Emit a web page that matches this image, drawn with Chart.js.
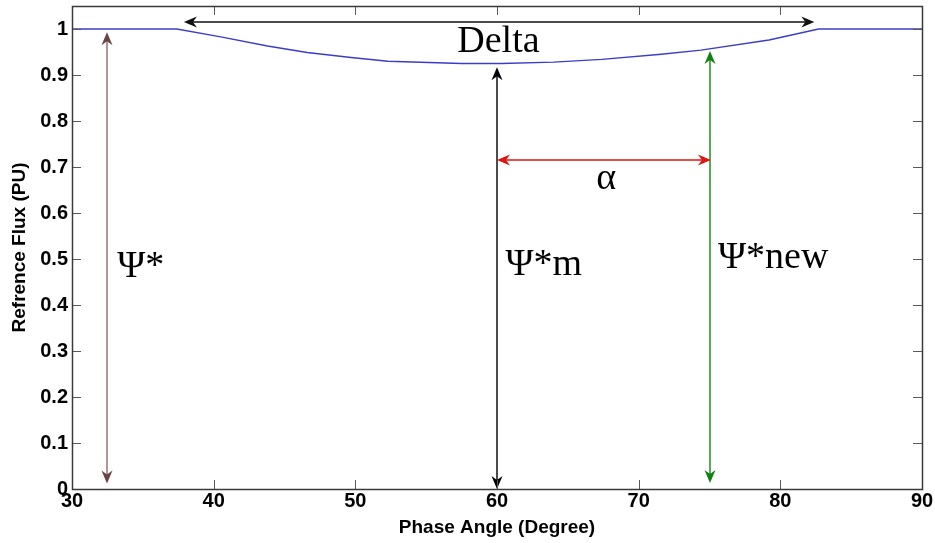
<!DOCTYPE html>
<html>
<head>
<meta charset="utf-8">
<script src="https://cdn.jsdelivr.net/npm/chart.js@4.4.0/dist/chart.umd.min.js"></script>
<style>
html, body { margin: 0; padding: 0; background: #fff; }
</style>
</head>
<body>
<canvas id="myChart" width="935" height="543"></canvas>
<script>
// curve
const phaseAngle = [30, 37.4, 40.5, 43.8, 46.6, 49.7, 52.3, 57.5, 60.3, 64, 67.4, 71.6, 74.4, 79.2, 82.7, 90];
const refFlux = [1, 1, 0.983, 0.963, 0.949, 0.938, 0.930, 0.925, 0.925, 0.928, 0.934, 0.945, 0.954, 0.976, 1, 1];

const xTicks = [30, 40, 50, 60, 70, 80, 90];
const yTicks = [0, 0.1, 0.2, 0.3, 0.4, 0.5, 0.6, 0.7, 0.8, 0.9, 1];

// vertical arrows: Psi*, Psi*m, Psi*new
const vArrowX = [32.5, 60, 75];
const vArrowTop = [0.993, 0.917, 0.952];
const vArrowBottom = [0.012, 0, 0.013];

// horizontal arrows: Delta, alpha
const hArrowY = [1.015, 0.715];
const hArrowFrom = [37.9, 60];
const hArrowTo = [82.4, 75.1];

// text labels
const labelText = ['Delta', 'α', 'Ψ*', 'Ψ*m', 'Ψ*new'];
const labelX = [60.1, 67.7, 33.2, 60.6, 75.6];
const labelY = [0.95, 0.652, 0.46, 0.465, 0.48];

const vArrowColors = [['#937575', '#6b4343'], ['#111', '#000'], ['#1f8f1f', '#138013']];
const hArrowColors = ['#111', '#e01212'];
const labelAlign = ['center', 'center', 'left', 'left', 'left'];

function drawHead(ctx, x, y, dx, dy, color) {
    const len = 13, half = 5.5, notch = 4;
    const px = -dy, py = dx;
    ctx.beginPath();
    ctx.moveTo(x, y);
    ctx.lineTo(x - dx * len + px * half, y - dy * len + py * half);
    ctx.lineTo(x - dx * (len - notch), y - dy * (len - notch));
    ctx.lineTo(x - dx * len - px * half, y - dy * len - py * half);
    ctx.closePath();
    ctx.fillStyle = color;
    ctx.fill();
}

const matlabBox = {
    id: 'matlabBox',
    afterDraw(chart) {
        const ctx = chart.ctx;
        const a = chart.chartArea;
        const xs = chart.scales.x, ys = chart.scales.y;
        ctx.save();
        ctx.strokeStyle = '#5a5a5a';
        ctx.lineWidth = 1;
        ctx.beginPath();
        xTicks.forEach(v => {
            const px = Math.round(xs.getPixelForValue(v)) + 0.5;
            ctx.moveTo(px, a.bottom); ctx.lineTo(px, a.bottom - 9);
            ctx.moveTo(px, a.top); ctx.lineTo(px, a.top + 9);
        });
        yTicks.forEach(v => {
            const py = Math.round(ys.getPixelForValue(v)) + 0.5;
            ctx.moveTo(a.left, py); ctx.lineTo(a.left + 9, py);
            ctx.moveTo(a.right, py); ctx.lineTo(a.right - 9, py);
        });
        ctx.stroke();
        ctx.strokeStyle = '#3a3a3a';
        ctx.lineWidth = 1.5;
        ctx.strokeRect(Math.round(a.left) + 0.5, Math.round(a.top) + 0.5, Math.round(a.right - a.left), Math.round(a.bottom - a.top));
        ctx.restore();
    }
};

const annotations = {
    id: 'annotations',
    afterDatasetsDraw(chart) {
        const ctx = chart.ctx;
        const xs = chart.scales.x, ys = chart.scales.y;
        ctx.save();
        ctx.lineWidth = 1.5;

        vArrowX.forEach((v, i) => {
            const px = Math.round(xs.getPixelForValue(v));
            const top = ys.getPixelForValue(vArrowTop[i]);
            const bot = ys.getPixelForValue(vArrowBottom[i]);
            ctx.strokeStyle = vArrowColors[i][0];
            ctx.beginPath();
            ctx.moveTo(px, top + 6);
            ctx.lineTo(px, bot - 6);
            ctx.stroke();
            drawHead(ctx, px, top, 0, -1, vArrowColors[i][1]);
            drawHead(ctx, px, bot, 0, 1, vArrowColors[i][1]);
        });

        hArrowY.forEach((v, i) => {
            const py = Math.round(ys.getPixelForValue(v));
            const x1 = xs.getPixelForValue(hArrowFrom[i]);
            const x2 = xs.getPixelForValue(hArrowTo[i]);
            ctx.strokeStyle = hArrowColors[i];
            ctx.beginPath();
            ctx.moveTo(x1 + 6, py);
            ctx.lineTo(x2 - 6, py);
            ctx.stroke();
            drawHead(ctx, x1, py, -1, 0, hArrowColors[i]);
            drawHead(ctx, x2, py, 1, 0, hArrowColors[i]);
        });

        ctx.fillStyle = '#000';
        ctx.font = '38px "Liberation Serif", "Times New Roman", serif';
        ctx.textBaseline = 'alphabetic';
        labelText.forEach((t, i) => {
            ctx.textAlign = labelAlign[i];
            ctx.fillText(t, xs.getPixelForValue(labelX[i]), ys.getPixelForValue(labelY[i]));
        });
        ctx.restore();
    }
};

const tickFont = { family: '"Liberation Sans", Arial, sans-serif', size: 20, weight: 'bold' };
const titleFont = { family: '"Liberation Sans", Arial, sans-serif', size: 19, weight: 'bold' };

const ctx = document.getElementById('myChart');

new Chart(ctx, {
    type: 'scatter',
    data: {
        datasets: [{
            data: phaseAngle.map((x, i) => ({ x: x, y: refFlux[i] })),
            showLine: true,
            borderColor: '#3c3cc8',
            borderWidth: 1.4,
            pointRadius: 0,
            tension: 0
        }]
    },
    options: {
        responsive: false,
        animation: false,
        layout: { padding: { left: 0, right: 13, top: 6, bottom: 0 } },
        plugins: { legend: { display: false }, tooltip: { enabled: false } },
        scales: {
            x: {
                type: 'linear',
                min: 30,
                max: 90,
                afterBuildTicks: s => { s.ticks = xTicks.map(v => ({ value: v })); },
                afterFit: s => { s.height = 54; s.paddingLeft = 0; s.paddingRight = 0; },
                grid: { display: false, drawTicks: false },
                border: { display: false },
                ticks: { color: '#000', font: tickFont, padding: 0, maxRotation: 0, autoSkip: false, callback: v => String(v) },
                title: { display: true, text: 'Phase Angle (Degree)', color: '#000', font: titleFont, padding: { top: 0, bottom: 4 } }
            },
            y: {
                type: 'linear',
                min: 0,
                max: 1.05,
                afterBuildTicks: s => { s.ticks = yTicks.map(v => ({ value: v })); },
                afterFit: s => { s.width = 72; s.paddingTop = 0; s.paddingBottom = 0; },
                grid: { display: false, drawTicks: false },
                border: { display: false },
                ticks: { color: '#000', font: tickFont, padding: 4, autoSkip: false, callback: v => String(+v.toFixed(1)) },
                title: { display: true, text: 'Refrence Flux (PU)', color: '#000', font: titleFont, padding: { top: 8, bottom: 0 } }
            }
        }
    },
    plugins: [matlabBox, annotations]
});
</script>
</body>
</html>
